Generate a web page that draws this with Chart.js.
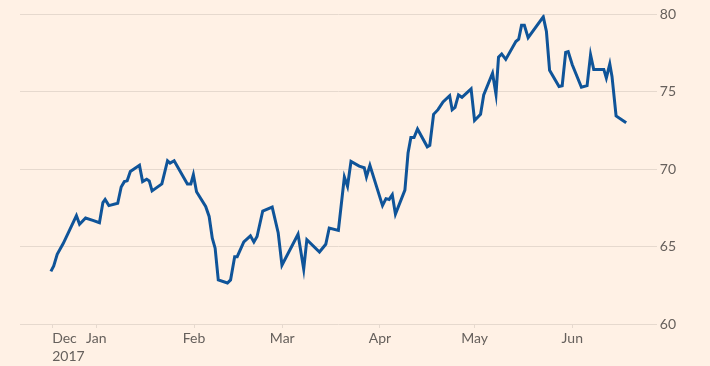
<!DOCTYPE html>
<html>
<head>
<meta charset="utf-8">
<script src="https://cdn.jsdelivr.net/npm/chart.js@4"></script>
<style>
  html, body { margin: 0; padding: 0; background: #fff1e5; }
  canvas { display: block; }
</style>
</head>
<body>
<canvas id="chart" width="710" height="366"></canvas>
<script>
// days counted from 1 Dec 2017
const days = [
  16.6, 17.5, 18.6, 20.5, 22.6, 24.7, 25.7, 27.6, 29.9, 32.0,
  33.1, 33.8, 35.0, 37.8, 38.9, 39.9, 40.8, 41.8, 44.7, 45.7,
  47.0, 47.8, 48.7, 51.8, 53.6, 54.4, 55.7, 59.9, 61.0, 61.8,
  62.8, 65.7, 66.8, 67.8, 68.7, 69.7, 72.6, 73.6, 74.9, 75.7,
  77.8, 79.9, 81.0, 82.0, 83.8, 86.8, 88.7, 89.9, 95.0, 96.8,
  97.8, 101.8, 103.8, 104.9, 107.8, 109.7, 110.7, 111.8, 114.4, 116.0,
  116.7, 117.8, 121.8, 122.9, 123.9, 124.9, 125.9, 128.9, 129.9, 130.8,
  131.8, 132.9, 136.0, 136.8, 138.0, 139.4, 141.0, 143.1, 143.9, 144.8,
  145.9, 147.0, 149.9, 151.0, 152.9, 153.9, 156.7, 157.8, 158.6, 159.6,
  160.9, 164.1, 165.0, 165.9, 166.8, 168.0, 172.8, 173.8, 174.8, 177.8,
  178.8, 179.9, 180.7, 182.0, 184.9, 186.7, 187.8, 188.8, 192.0, 192.8,
  193.9, 194.6, 195.9, 199.1
];
const values = [
  63.4, 63.75, 64.5, 65.2, 66.1, 67.0, 66.45, 66.85, 66.7, 66.55,
  67.85, 68.05, 67.65, 67.8, 68.85, 69.2, 69.25, 69.85, 70.25, 69.2,
  69.35, 69.25, 68.6, 69.05, 70.55, 70.4, 70.55, 69.05, 69.05, 69.65,
  68.55, 67.6, 66.95, 65.55, 64.9, 62.85, 62.65, 62.85, 64.35, 64.35,
  65.3, 65.7, 65.3, 65.65, 67.3, 67.55, 65.9, 63.8, 65.8, 63.55,
  65.45, 64.65, 65.15, 66.2, 66.05, 69.5, 68.9, 70.5, 70.2, 70.1,
  69.5, 70.25, 67.65, 68.1, 68.05, 68.35, 67.1, 68.65, 71.05, 72.05,
  72.05, 72.6, 71.45, 71.55, 73.55, 73.85, 74.35, 74.75, 73.85, 74.0,
  74.8, 74.65, 75.2, 73.15, 73.55, 74.8, 76.2, 74.85, 77.25, 77.45,
  77.1, 78.25, 78.4, 79.3, 79.3, 78.5, 79.85, 78.9, 76.4, 75.35,
  75.4, 77.55, 77.6, 76.75, 75.3, 75.4, 77.4, 76.45, 76.45, 75.9,
  76.8, 76.0, 73.45, 73.0
];

// month ticks (same day count); last one is an empty end marker
const xTicks = [17, 31, 62, 90, 121, 151, 182, 208.8];
const xLabels = [['Dec', '2017'], 'Jan', 'Feb', 'Mar', 'Apr', 'May', 'Jun', ''];
const yTicks = [60, 65, 70, 75, 80];

const gridColor = '#e6d9ce';
const textColor = '#66605c';
const font = { family: 'Lato', size: 14, lineHeight: 1.3 };

new Chart(document.getElementById('chart'), {
  type: 'line',
  data: {
    datasets: [{
      data: days.map((d, i) => ({ x: d, y: values[i] })),
      borderColor: '#0f5499',
      borderWidth: 3,
      pointRadius: 0,
      tension: 0,
      fill: false
    }]
  },
  options: {
    responsive: false,
    animation: false,
    devicePixelRatio: 1,
    layout: { padding: { left: 20, right: 31, top: 14.5, bottom: 1 } },
    plugins: { legend: { display: false }, tooltip: { enabled: false } },
    scales: {
      x: {
        type: 'linear',
        min: 6.8,
        max: 208.8,
        afterBuildTicks: scale => { scale.ticks = xTicks.map(v => ({ value: v })); },
        afterFit: scale => { scale.height = 41; },
        grid: {
          drawOnChartArea: false,
          drawTicks: true,
          tickLength: 4,
          tickColor: ctx => ctx.index === xTicks.length - 1 ? 'transparent' : gridColor
        },
        border: { display: false },
        ticks: {
          autoSkip: false,
          maxRotation: 0,
          align: 'inner',
          padding: 1,
          color: textColor,
          font: font,
          callback: (v, i) => xLabels[i]
        }
      },
      y: {
        position: 'right',
        min: 60,
        max: 80,
        afterBuildTicks: scale => { scale.ticks = yTicks.map(v => ({ value: v })); },
        grid: { color: gridColor, lineWidth: 1, drawTicks: false },
        border: { display: false },
        ticks: { padding: 3, color: textColor, font: font }
      }
    }
  }
});
</script>
</body>
</html>
